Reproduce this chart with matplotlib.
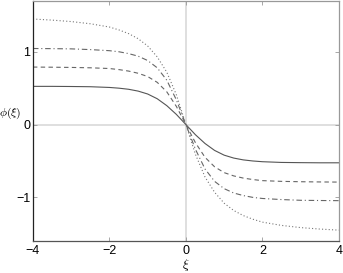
import numpy as np
import matplotlib
matplotlib.use("Agg")
import matplotlib.pyplot as plt

plt.rcParams['font.family'] = ['Liberation Sans', 'DejaVu Sans']
plt.rcParams['mathtext.fontset'] = 'cm'

# xi grid and phi(xi) values
xi = [-4, -3.5, -3, -2.5, -2, -1.75, -1.5, -1.25, -1, -0.75, -0.5, -0.25, 0,
      0.25, 0.5, 0.75, 1, 1.25, 1.5, 1.75, 2, 2.5, 3, 3.5, 4]

phi_solid = [0.525, 0.525, 0.523, 0.52, 0.51, 0.50, 0.485, 0.46, 0.42, 0.355, 0.26, 0.14, 0,
             -0.14, -0.26, -0.355, -0.42, -0.46, -0.485, -0.50, -0.51, -0.52, -0.523, -0.525, -0.525]
phi_dashed = [0.79, 0.788, 0.785, 0.78, 0.77, 0.755, 0.735, 0.705, 0.66, 0.58, 0.45, 0.25, 0,
              -0.25, -0.45, -0.58, -0.66, -0.705, -0.735, -0.755, -0.77, -0.78, -0.785, -0.788, -0.79]
phi_dashdot = [1.045, 1.043, 1.04, 1.03, 1.015, 1.0, 0.975, 0.94, 0.88, 0.78, 0.61, 0.34, 0,
               -0.34, -0.61, -0.78, -0.88, -0.94, -0.975, -1.0, -1.015, -1.03, -1.04, -1.043, -1.045]
phi_dotted = [1.45, 1.435, 1.415, 1.385, 1.34, 1.30, 1.25, 1.18, 1.08, 0.93, 0.72, 0.41, 0,
              -0.41, -0.72, -0.93, -1.08, -1.18, -1.25, -1.30, -1.34, -1.385, -1.415, -1.435, -1.45]

xticks = [-4, -2, 0, 2, 4]
yticks = [-1, 0, 1]

fig = plt.figure(figsize=(3.43, 2.73), dpi=100)
ax = fig.add_axes([0.096, 0.117, 0.892, 0.88])

# zero reference lines
ax.axhline(0, color='#dcdcdc', lw=1.3, zorder=1)
ax.axvline(0, color='#dcdcdc', lw=1.3, zorder=1)

ax.plot(xi, phi_solid, color='#555555', lw=0.8, ls='-')
ax.plot(xi, phi_dashed, color='#666666', lw=0.8, ls=(0, (4, 3)))
ax.plot(xi, phi_dashdot, color='#666666', lw=0.8, ls=(0, (5, 2.5, 1, 2.5)))
ax.plot(xi, phi_dotted, color='#777777', lw=0.8, ls=(0, (1, 2)))

ax.set_xlim(-4, 4)
ax.set_ylim(-1.6, 1.7)
ax.set_xticks(xticks)
ax.set_yticks(yticks)
ax.set_xticklabels(['\u22124', '\u22122', '0', '2', '4'])
ax.set_yticklabels(['\u22121', '0', '1'])
ax.tick_params(direction='in', length=3, width=0.6, color='#999999',
               labelsize=9, top=True, right=True, pad=3)
ax.tick_params(axis='y', pad=2)

ax.spines['left'].set_color('#222222')
ax.spines['bottom'].set_color('#555555')
ax.spines['top'].set_color('#999999')
ax.spines['right'].set_color('#999999')
for s in ax.spines.values():
    s.set_linewidth(0.9)

ax.set_xlabel(r'$\xi$', fontsize=9.5, va='center')
ax.xaxis.set_label_coords(0.5, -0.1)
ax.set_ylabel(r'$\phi(\xi)$', fontsize=8.5, rotation=0, ha='center', va='center')
ax.yaxis.set_label_coords(-0.074, 0.53)

fig.savefig('out.png', dpi=100)
